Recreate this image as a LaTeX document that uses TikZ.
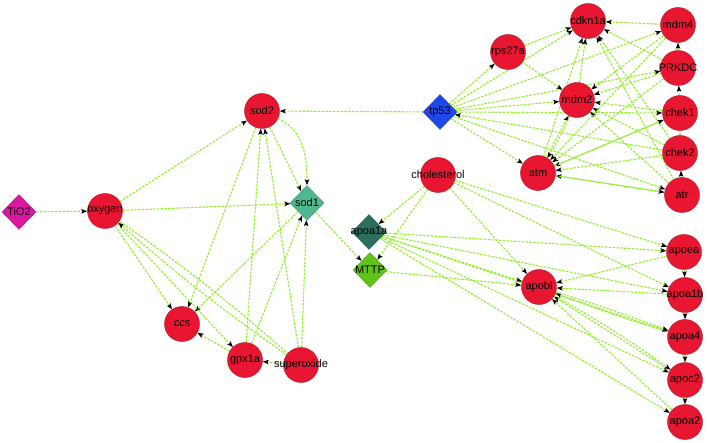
\documentclass[tikz,border=0pt]{standalone}
\usepackage{fontspec}
\setmainfont{Liberation Sans}
\usetikzlibrary{shapes.geometric,arrows.meta}
\pgfdeclarelayer{bg}
\pgfsetlayers{bg,main}
\definecolor{edgeg}{RGB}{148,238,48}
\definecolor{nodered}{RGB}{232,22,48}
\definecolor{tiocol}{RGB}{218,24,160}
\definecolor{sodcol}{RGB}{80,184,140}
\definecolor{tpcol}{RGB}{30,72,232}
\definecolor{apcol}{RGB}{44,110,96}
\definecolor{mtcol}{RGB}{96,196,24}
\begin{document}
\begin{tikzpicture}[x=1pt,y=-1pt,
  gene/.style={circle,fill=nodered,draw=nodered!75!black,line width=0.4pt,minimum size=35pt,inner sep=0pt},
  dia/.style={diamond,minimum width=34pt,minimum height=35pt,inner sep=0pt,draw=#1!80!black,line width=0.4pt,fill=#1},
  lbl/.style={font=\fontsize{11}{11}\selectfont,inner sep=0pt,text=black},
  link/.style={draw=edgeg,line width=1.1pt,dash pattern=on 2.5pt off 1.3pt,-{Stealth[length=6pt,width=4.5pt,inset=1.2pt,color=black,fill=black]}},
  bare/.style={draw=edgeg,line width=1.1pt,dash pattern=on 2.5pt off 1.3pt}]
% nodes
\node[dia=tiocol] (TiO2) at (19,212) {};
\node[gene] (oxygen) at (105,211) {};
\node[gene] (sod2) at (262,111) {};
\node[dia=sodcol] (sod1) at (307,203) {};
\node[gene] (ccs) at (182,324) {};
\node[gene] (gpx1a) at (245,360) {};
\node[gene] (superoxide) at (301,365) {};
\node[dia=tpcol] (tp53) at (440,112) {};
\node[gene] (rps27a) at (508,52) {};
\node[gene] (cdkn1a) at (588,21) {};
\node[gene] (mdm4) at (678,25) {};
\node[gene] (PRKDC) at (678,68) {};
\node[gene] (mdm2) at (577,100) {};
\node[gene] (chek1) at (680,113) {};
\node[gene] (chek2) at (680,153) {};
\node[gene] (atr) at (682,195) {};
\node[gene] (atm) at (538,173) {};
\node[gene] (cholesterol) at (438,175) {};
\node[dia=apcol] (apoa1a) at (369,232) {};
\node[dia=mtcol] (MTTP) at (370,270) {};
\node[gene] (apobl) at (539,287) {};
\node[gene] (apoea) at (684,252) {};
\node[gene] (apoa1b) at (685,295) {};
\node[gene] (apoa4) at (685,337) {};
\node[gene] (apoc2) at (685,380) {};
\node[gene] (apoa2) at (685,422) {};
% labels
\foreach \n in {TiO2,oxygen,sod2,sod1,ccs,gpx1a,superoxide,tp53,rps27a,cdkn1a,mdm4,PRKDC,mdm2,chek1,chek2,atr,atm,cholesterol,apoa1a,MTTP,apobl,apoea,apoa1b,apoa4,apoc2,apoa2}
  \node[lbl] (\n-t) at (\n) {\n};
% edges
\begin{pgfonlayer}{bg}
\fill[white] (0,0) rectangle (708,443);
\foreach \a/\b in {TiO2/oxygen, oxygen/sod2, oxygen/sod1, tp53/sod2, sod2/sod1,
  sod2/ccs, oxygen/ccs, sod1/ccs, oxygen/gpx1a, gpx1a/ccs, superoxide/gpx1a,
  gpx1a/sod2, superoxide/sod2, gpx1a/sod1, superoxide/sod1, sod1/MTTP,
  tp53/rps27a, tp53/cdkn1a, tp53/mdm2, tp53/mdm4, tp53/PRKDC, tp53/chek1, tp53/atm, chek2/tp53, tp53/atr,
  rps27a/cdkn1a, rps27a/mdm2, mdm2/cdkn1a, atm/cdkn1a, mdm4/cdkn1a, PRKDC/cdkn1a, chek2/cdkn1a, atr/cdkn1a,
  mdm4/mdm2, PRKDC/mdm2, chek1/mdm2, chek2/mdm2, atr/mdm2, atm/mdm2,
  mdm4/atm, PRKDC/atm, chek1/atm, chek2/atm, atr/atm, atm/atr,
  atm/chek1, PRKDC/mdm4, chek1/PRKDC, atr/chek2,
  cholesterol/apoa1a, cholesterol/MTTP, cholesterol/apobl, cholesterol/apoea, cholesterol/apoa1b,
  apoa1a/apoea, apoa1a/apobl, apoa1a/apoa1b, apoa1a/apoa4, apoa1a/apoc2, apoa1a/apoa2,
  MTTP/apobl, apoea/apobl, apoa1b/apobl, apoc2/apobl, apoa2/apobl,
  apoea/apoa1b, apoa1b/apoa4, apoa4/apoc2, apoc2/apoa2}
  \draw[link] (\a) -- (\b);
\draw[link] (sod2) to[out=-25,in=90] (sod1);
\draw[link] (superoxide) to[bend left=3] (oxygen);
\draw[bare] (oxygen) to[bend left=3] (superoxide);
\draw[link] (apoa4) to[bend left=2] (apobl);
\draw[link] (apobl) to[bend left=2] (apoa4);
\draw[link] (apobl) to[bend left=3] (apoc2);
\draw[link] (mdm2) to[bend left=4] (atm);
\draw[bare] (chek2) -- (chek1);
\end{pgfonlayer}
\end{tikzpicture}
\end{document}
